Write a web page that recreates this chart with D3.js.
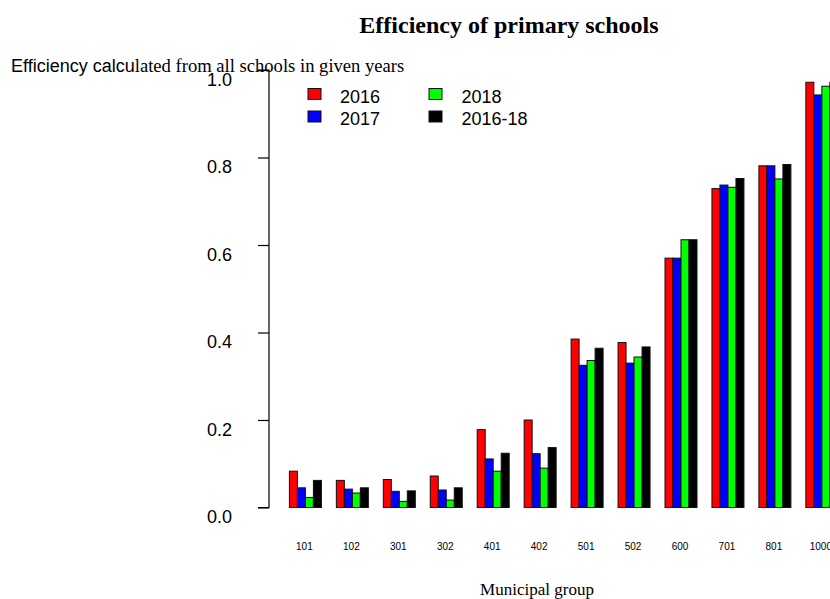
<!DOCTYPE html>
<html>
<head>
<meta charset="utf-8">
<script src="https://cdn.jsdelivr.net/npm/d3@7"></script>
<style>
  html, body { margin: 0; padding: 0; background: #fff; overflow: hidden; }
  svg { display: block; }
</style>
</head>
<body>
<svg id="chart" width="830" height="599"></svg>
<script>
// ---- data ----
const categories = ["101","102","301","302","401","402","501","502","600","701","801","1000"];
const seriesNames = ["2016","2017","2018","2016-18"];
const seriesColors = ["#ff0000","#0000ff","#00ff00","#000000"];
const values2016   = [0.083,0.062,0.064,0.072,0.178,0.200,0.385,0.377,0.570,0.729,0.781,0.972];
const values2017   = [0.045,0.042,0.037,0.040,0.111,0.123,0.325,0.330,0.570,0.737,0.781,0.943];
const values2018   = [0.023,0.033,0.014,0.017,0.083,0.090,0.336,0.344,0.612,0.732,0.751,0.963];
const values201618 = [0.062,0.045,0.038,0.045,0.124,0.137,0.364,0.367,0.612,0.752,0.784,0.972];
const yTicks = [0, 0.2, 0.4, 0.6, 0.8, 1.0];
const titleText = "Efficiency of primary schools";
const subtitleSans = "Efficiency calcu";
const subtitleSerif = "lated from all schools in given years";
const xLabel = "Municipal group";

const allSeries = [values2016, values2017, values2018, values201618];
const table = categories.map((c, i) => {
  const row = { cat: c };
  seriesNames.forEach((s, j) => row[s] = allSeries[j][i]);
  return row;
});

const SANS = "'Liberation Sans', Arial, Helvetica, sans-serif";
const SERIF = "'Liberation Serif', 'Times New Roman', Times, serif";

const svg = d3.select("#chart");

// ---- scales ----
const step = 46.95, bw = 32, x0start = 289.4;
const pInner = 1 - bw / step;
const x0 = d3.scaleBand()
  .domain(categories)
  .range([x0start, x0start + step * (categories.length - pInner)])
  .paddingInner(pInner)
  .paddingOuter(0);
const x1 = d3.scaleBand().domain(seriesNames).range([0, x0.bandwidth()]).padding(0);
const y = d3.scaleLinear().domain([0, 1]).range([507.5, 70]);
const color = d3.scaleOrdinal().domain(seriesNames).range(seriesColors);

// ---- bars ----
const groups = svg.append("g").selectAll("g")
  .data(table).join("g")
  .attr("transform", d => `translate(${x0(d.cat)},0)`);
groups.selectAll("rect")
  .data(d => seriesNames.map(s => ({ key: s, value: d[s] })))
  .join("rect")
  .attr("x", d => x1(d.key))
  .attr("width", x1.bandwidth())
  .attr("y", d => y(d.value))
  .attr("height", d => y(0) - y(d.value))
  .attr("fill", d => color(d.key))
  .attr("stroke", "#111")
  .attr("stroke-width", 1);

// ---- y axis ----
const yAxis = d3.axisLeft(y).tickValues(yTicks).tickFormat(d3.format(".1f")).tickSize(11).tickPadding(26);
const ya = svg.append("g").attr("transform", "translate(269,0)").call(yAxis);
ya.select(".domain").attr("stroke", "#000").attr("stroke-width", 1.2)
  .attr("d", `M-11,${y(1)}H0V${y(0)}H-11`);
ya.selectAll(".tick line").attr("stroke", "#000").attr("stroke-width", 1.2);
ya.selectAll(".tick text")
  .attr("font-family", SANS).attr("font-size", 18).attr("fill", "#000")
  .attr("dy", null).attr("y", 15).attr("x", -37).attr("text-anchor", "end");
ya.attr("font-family", SANS);

// ---- x axis labels ----
const xAxis = d3.axisBottom(x0).tickSize(0).tickPadding(0);
const xa = svg.append("g").attr("transform", "translate(-1,0)").call(xAxis);
xa.select(".domain").remove();
xa.selectAll(".tick text")
  .attr("font-family", SANS).attr("font-size", 10).attr("fill", "#000")
  .attr("dy", null).attr("y", 550);

// ---- legend ----
const legendPos = [
  { bx: 308, tx: 340, by: 102.5 },
  { bx: 308, tx: 340, by: 125 },
  { bx: 429, tx: 461.5, by: 102.5 },
  { bx: 429, tx: 461.5, by: 125 }
];
const lg = svg.append("g");
seriesNames.forEach((s, i) => {
  const p = legendPos[i];
  lg.append("rect").attr("x", p.bx).attr("y", p.by - 14).attr("width", 13).attr("height", 11)
    .attr("fill", color(s)).attr("stroke", "#111").attr("stroke-width", 1);
  lg.append("text").attr("x", p.tx).attr("y", p.by).attr("font-family", SANS)
    .attr("font-size", 18).attr("fill", "#000").text(s);
});

// ---- titles ----
svg.append("text").attr("x", 509).attr("y", 33).attr("text-anchor", "middle")
  .attr("font-family", SERIF).attr("font-weight", "bold").attr("font-size", 24)
  .attr("fill", "#000").text(titleText);

const sub = svg.append("text").attr("x", 11).attr("y", 72).attr("fill", "#000");
sub.append("tspan").attr("font-family", SANS).attr("font-size", 18).text(subtitleSans);
sub.append("tspan").attr("font-family", SERIF).attr("font-size", 18.6).text(subtitleSerif);

svg.append("text").attr("x", 537).attr("y", 595).attr("text-anchor", "middle")
  .attr("font-family", SERIF).attr("font-size", 17).attr("fill", "#000").text(xLabel);
</script>
</body>
</html>
